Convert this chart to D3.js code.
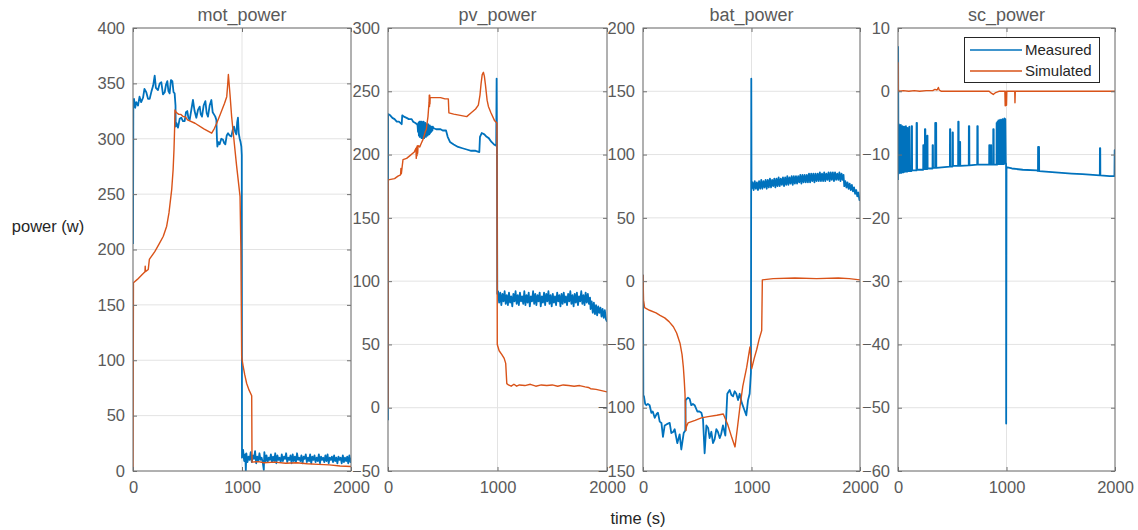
<!DOCTYPE html>
<html>
<head>
<meta charset="utf-8">
<script src="https://cdn.jsdelivr.net/npm/d3@7/dist/d3.min.js"></script>
<style>
  html, body { margin: 0; padding: 0; background: #ffffff; }
  svg { display: block; font-family: "Liberation Sans", Arial, Helvetica, sans-serif; }
</style>
</head>
<body>
<svg id="chart" width="1138" height="530"></svg>
<script>
// ---------------- DATA ----------------
const panelTitles = ["mot_power", "pv_power", "bat_power", "sc_power"];
const seriesNames = ["Measured", "Simulated"];
const xTicks = [0, 1000, 2000];
const yTicksMot = [0, 50, 100, 150, 200, 250, 300, 350, 400];
const yTicksPv  = [-50, 0, 50, 100, 150, 200, 250, 300];
const yTicksBat = [-150, -100, -50, 0, 50, 100, 150, 200];
const yTicksSc  = [-60, -50, -40, -30, -20, -10, 0, 10];

// mot_power measured [time, power]
const motMeasured = [[0,205],[3,334],[9,336],[20,328],[30,333],[46,330],[60,338],[75,333],[92,337],[105,345],[122,342],[138,336],[153,336],[170,343],[185,348],[199,357],[210,346],[229,344],[245,350],[260,351],[275,340],[291,342],[303,349],[315,352],[325,343],[336,341],[348,353],[361,352],[372,342],[382,341],[390,330],[392,311],[400,314],[413,310],[428,318],[443,319],[458,316],[474,316],[486,324],[498,325],[508,319],[520,317],[535,326],[550,335],[565,325],[581,319],[596,326],[612,329],[622,322],[633,320],[648,330],[664,334],[676,323],[688,320],[703,330],[719,335],[731,324],[743,322],[755,320],[765,317],[770,300],[774,293],[785,297],[795,295],[810,300],[826,299],[837,296],[847,295],[860,303],[872,305],[886,303],[902,302],[915,308],[927,311],[938,306],[948,304],[956,315],[963,319],[970,305],[979,300],[987,297],[994,293],[998,285],
[1000,12],[1010,19],[1020,9],[1030,15],[1035,0],[1040,16],[1050,8],[1060,13],[1070,10],[1080,17],[1090,8],[1100,14],[1110,11],[1120,18],[1130,7],[1140,13],[1150,9],[1160,16],[1170,10],[1180,12],[1190,8],[1200,1],[1205,17],[1215,9],[1225,14],[1235,8],[1245,12],[1255,10],[1265,15],[1275,8],[1285,13],[1295,9],[1305,16],[1315,7],[1325,14],[1335,10],[1345,12],[1355,8],[1365,15],[1375,9],[1385,13],[1395,11],[1405,16],[1415,8],[1425,12],[1435,10],[1445,14],[1455,7],[1465,15],[1475,9],[1485,13],[1495,8],[1505,16],[1515,10],[1525,12],[1535,9],[1545,14],[1555,7],[1565,13],[1575,11],[1585,15],[1595,8],[1605,12],[1615,9],[1625,15],[1635,7],[1645,13],[1655,10],[1665,14],[1675,8],[1685,12],[1695,9],[1705,15],[1715,7],[1725,13],[1735,10],[1745,12],[1755,8],[1765,14],[1775,9],[1785,15],[1795,7],[1805,12],[1815,10],[1825,13],[1835,8],[1845,14],[1855,9],[1865,12],[1875,7],[1885,13],[1895,10],[1905,12],[1915,7],[1925,14],[1935,8],[1945,12],[1955,9],[1965,13],[1975,7],[1985,14],[1995,8],[2000,12]];
// mot_power simulated
const motSimulated = [[0,0],[4,170],[40,173],[80,177],[110,180],[112,185],[114,180],[140,182],[150,191],[156,192],[200,198],[240,205],[278,212],[309,221],[330,233],[355,254],[368,272],[376,290],[382,310],[385,326],[395,324],[420,322],[440,322],[460,320],[480,320],[500,317],[569,314],[650,309],[722,305],[745,309],[768,314],[800,322],[840,332],[860,338],[868,348],[875,358],[890,340],[905,320],[920,305],[950,276],[982,248],[990,200],[997,103],[1010,95],[1025,87],[1043,79],[1065,73],[1089,68],[1092,8],[1150,8.5],[1200,7.5],[1300,8],[1400,7],[1500,7.5],[1600,6.5],[1700,6],[1800,5.5],[1900,4.5],[2000,4]];

// pv_power measured
const pvMeasured = [[0,-10],[1,232],[20,231],[40,229],[60,228],[80,226],[100,226],[125,224],[130,231],[145,230],[170,229],[190,228],[216,228],[230,226],[250,225],[265,224],[270,223],[274,218],[278,225],[282,215],[286,226],[290,214],[294,226],[298,214],[302,226],[306,213],[310,226],[314,213],[318,225],[322,214],[326,226],[330,213],[334,225],[338,214],[342,225],[346,214],[350,224],[354,215],[358,224],[362,215],[366,224],[370,216],[374,223],[378,216],[382,223],[386,217],[390,222],[395,218],[400,222],[405,219],[410,222],[414,221],[440,220],[480,220],[500,219],[530,219],[545,214],[566,210],[600,208],[640,206],[680,205],[719,204],[760,203],[800,203],[834,202],[840,214],[856,217],[880,216],[901,214],[920,213],[945,210],[968,208],[988,207],[992,260],[995,207],[998,90],
[1005,92],[1015,83],[1025,91],[1035,81],[1045,90],[1055,84],[1065,92],[1075,82],[1085,89],[1095,81],[1105,91],[1115,83],[1125,88],[1135,80],[1145,90],[1155,84],[1165,92],[1175,82],[1185,89],[1195,81],[1205,91],[1215,84],[1225,88],[1235,82],[1245,92],[1255,81],[1265,89],[1275,83],[1285,91],[1295,80],[1305,88],[1315,84],[1325,92],[1335,82],[1345,90],[1355,81],[1365,89],[1375,84],[1385,91],[1395,80],[1405,88],[1415,83],[1425,91],[1435,81],[1445,90],[1455,84],[1465,92],[1475,82],[1485,89],[1495,80],[1505,90],[1515,83],[1525,88],[1535,81],[1545,91],[1555,84],[1565,89],[1575,80],[1585,90],[1595,82],[1605,91],[1615,83],[1625,88],[1635,81],[1645,90],[1655,84],[1665,92],[1675,82],[1685,89],[1695,80],[1705,90],[1715,83],[1725,91],[1735,81],[1745,88],[1755,84],[1765,92],[1775,82],[1785,89],[1795,81],[1805,91],[1815,83],[1825,90],[1835,82],[1845,87],[1850,78],[1860,84],[1870,75],[1880,83],[1890,74],[1900,81],[1910,73],[1920,80],[1930,75],[1940,79],[1950,72],[1960,78],[1970,71],[1980,77],[1990,70],[2000,68]];
// pv_power simulated
const pvSimulated = [[0,0],[2,180],[60,181],[91,183],[115,184],[118,189],[122,185],[137,196],[170,197],[198,199],[240,202],[255,205],[258,197],[262,206],[265,199],[268,207],[271,201],[274,206],[280,207],[290,206],[304,209],[320,212],[330,215],[340,218],[350,220],[365,230],[372,238],[375,241],[377,247],[379,238],[381,247],[383,240],[385,245],[420,245],[480,245],[520,244],[551,244],[556,233],[600,232],[660,231],[719,230],[760,233],[800,236],[825,239],[840,247],[850,256],[860,263],[871,265],[880,262],[890,255],[905,243],[917,238],[940,233],[972,227],[995,225],[998,50],[1015,45],[1040,42],[1061,39],[1075,35],[1085,19],[1100,18],[1125,17],[1150,18.5],[1175,17],[1200,18],[1250,17.5],[1300,18.5],[1350,17],[1400,18],[1450,17.5],[1500,18],[1550,17],[1600,18],[1650,17.5],[1700,17],[1750,17.5],[1800,16.5],[1830,16],[1850,15],[1900,14.5],[1950,13.5],[2000,12.5]];

// bat_power measured
const batMeasured = [[0,5],[3,-90],[9,-91],[20,-97],[31,-98],[45,-97],[61,-98],[77,-104],[90,-103],[108,-108],[125,-105],[138,-104],[154,-111],[170,-112],[184,-123],[200,-114],[220,-113],[246,-112],[261,-120],[280,-119],[292,-117],[316,-128],[338,-121],[353,-133],[375,-120],[390,-118],[393,-94],[415,-92],[430,-93],[445,-98],[460,-97],[476,-98],[501,-103],[520,-103],[538,-104],[553,-109],[568,-136],[584,-114],[600,-116],[614,-124],[630,-119],[645,-128],[660,-125],[676,-117],[690,-119],[707,-124],[720,-121],[737,-114],[759,-122],[777,-89],[799,-86],[815,-90],[830,-91],[845,-87],[860,-89],[876,-94],[891,-89],[910,-96],[931,-101],[952,-106],[968,-94],[983,-89],[995,-72],[998,160],[1000,73],
[1010,78],[1020,72],[1030,79],[1040,73],[1050,78],[1060,72],[1070,79],[1080,73],[1090,80],[1100,73],[1110,79],[1120,74],[1130,80],[1140,73],[1150,80],[1160,74],[1170,81],[1180,74],[1190,80],[1200,75],[1210,81],[1220,74],[1230,81],[1240,75],[1250,82],[1260,75],[1270,81],[1280,76],[1290,82],[1300,75],[1310,82],[1320,76],[1330,83],[1340,76],[1350,82],[1360,77],[1370,83],[1380,76],[1390,83],[1400,77],[1410,83],[1420,77],[1430,83],[1440,78],[1450,84],[1460,77],[1470,84],[1480,78],[1490,84],[1500,78],[1510,84],[1520,78],[1530,85],[1540,78],[1550,85],[1560,79],[1570,85],[1580,78],[1590,85],[1600,79],[1610,85],[1620,79],[1630,86],[1640,79],[1650,85],[1660,79],[1670,86],[1680,79],[1690,85],[1700,80],[1710,86],[1720,79],[1730,86],[1740,80],[1750,86],[1760,79],[1770,86],[1780,80],[1790,85],[1800,80],[1810,86],[1820,79],[1830,85],[1840,80],[1848,84],
[1855,75],[1865,79],[1875,74],[1885,78],[1895,73],[1905,77],[1915,72],[1925,76],[1935,71],[1945,74],[1955,69],[1965,72],[1975,67],[1985,70],[1995,64],[2000,66]];
// bat_power simulated
const batSimulated = [[0,5],[5,-15],[15,-21],[60,-23],[120,-25],[157,-27],[200,-29],[240,-32],[280,-36],[310,-41],[341,-49],[360,-58],[372,-68],[380,-78],[387,-89],[392,-105],[396,-118],[400,-115],[415,-112],[480,-110],[538,-108],[600,-107],[680,-106],[740,-105],[780,-113],[820,-124],[848,-131],[870,-116],[894,-99],[920,-83],[956,-68],[986,-52],[1002,-69],[1025,-61],[1048,-54],[1070,-46],[1094,-39],[1100,1],[1200,2],[1400,2.5],[1600,2],[1800,2.5],[1900,2],[2000,1]];

// sc_power measured
const scMeasured = [[0,-14],[1,7],[3,-5],[6,-13],[8,-5.2],[12,-5.4],[14,-12.9],[18,-5.6],[22,-12.9],[26,-5.3],[30,-12.9],[33,-5.8],[37,-12.8],[41,-5.5],[45,-12.8],[49,-6],[53,-12.8],[57,-5.6],[61,-12.7],[65,-5.9],[69,-12.7],[73,-5.5],[77,-12.7],[80,-6.2],[84,-12.7],[88,-5.8],[92,-12.6],[96,-6],[100,-12.6],[104,-5.6],[108,-12.6],
[124,-12.6],[125,-5.5],[129,-5.5],[130,-12.5],[170,-12.5],[171,-5],[175,-5],[176,-12.4],[232,-12.4],[233,-8.5],[236,-8.5],[237,-12.3],[247,-12.3],[248,-6],[252,-6],[253,-12.3],[268,-12.3],[269,-7],[272,-7],[273,-12.2],[318,-12.2],[319,-8.5],[322,-8.5],[323,-12.1],[342,-12.1],[343,-5],[352,-5],[353,-12.1],[478,-11.9],[479,-6],[482,-6],[483,-11.9],[502,-11.9],[503,-6.5],[506,-6.5],[507,-11.8],[554,-11.8],[555,-4.8],[559,-4.8],[560,-11.8],[569,-11.8],[570,-8],[573,-8],[574,-11.8],[652,-11.7],[653,-5.5],[657,-5.5],[658,-11.7],[730,-11.6],[731,-5.5],[735,-5.5],[736,-11.6],[840,-11.6],[841,-8.5],[844,-8.5],[845,-11.6],[855,-11.6],[856,-8.5],[859,-8.5],[860,-11.6],[877,-11.6],[878,-6],[882,-6],[883,-11.6],
[908,-11.6],[909,-5],[913,-11.6],[917,-4.8],[921,-11.5],[925,-4.6],[929,-11.5],[933,-5],[937,-11.5],[941,-4.5],[945,-11.5],[949,-4.7],[953,-11.5],[957,-4.5],[961,-11.5],[965,-4.4],[969,-11.5],[973,-4.5],[977,-11.5],[981,-4.3],[985,-11.4],[989,-4.4],[993,-11.4],[996,-11.4],[997,-52.5],[999,-26],[1000,-12],
[1050,-12.2],[1150,-12.4],[1280,-12.5],[1290,-12.6],[1291,-8.8],[1300,-8.8],[1301,-12.6],[1450,-12.8],[1600,-13],[1700,-13.1],[1860,-13.3],[1861,-9],[1864,-9],[1865,-13.3],[1950,-13.4],[1995,-13.4],[1997,-9.3],[2000,-9.3]];
// sc_power simulated
const scSimulated = [[0,0],[1,4.5],[3,0.3],[8,0],[50,0.1],[100,0],[150,0.1],[200,0],[260,0.1],[320,0.1],[340,0.3],[360,0.2],[372,0.6],[380,0.2],[400,0],[600,0],[800,0],[840,0],[860,-0.3],[878,-0.5],[900,-0.2],[930,0],[985,0],[988,-2.3],[992,-1.5],[995,0],[1000,-2.2],[1003,0],[1076,0],[1078,-1.8],[1081,0],[1500,0],[2000,0]];

// ---------------- LAYOUT ----------------
const panels = [
  { title: panelTitles[0], left: 133, width: 218, domain: [0, 400],   ticks: yTicksMot, meas: motMeasured, sim: motSimulated },
  { title: panelTitles[1], left: 388, width: 219, domain: [-50, 300], ticks: yTicksPv,  meas: pvMeasured,  sim: pvSimulated },
  { title: panelTitles[2], left: 643, width: 217, domain: [-150, 200],ticks: yTicksBat, meas: batMeasured, sim: batSimulated },
  { title: panelTitles[3], left: 898, width: 217, domain: [-60, 10],  ticks: yTicksSc,  meas: scMeasured,  sim: scSimulated }
];
const plotTop = 28, plotBottom = 471;
const colors = { meas: "#0072BD", sim: "#D95319" };
const textColor = "#5a5a5a";
const boxColor = "#707070";
const gridColor = "#e3e3e3";

const svg = d3.select("#chart");

panels.forEach((p, i) => {
  const x = d3.scaleLinear().domain([0, 2000]).range([p.left, p.left + p.width]);
  const y = d3.scaleLinear().domain(p.domain).range([plotBottom, plotTop]);
  const g = svg.append("g");

  const clipId = "clip" + i;
  svg.append("clipPath").attr("id", clipId).append("rect")
    .attr("x", p.left).attr("y", plotTop).attr("width", p.width).attr("height", plotBottom - plotTop);

  // grid
  g.append("g").selectAll("line").data(p.ticks).join("line")
    .attr("x1", p.left).attr("x2", p.left + p.width)
    .attr("y1", d => y(d)).attr("y2", d => y(d))
    .attr("stroke", gridColor).attr("stroke-width", 1);
  g.append("g").selectAll("line").data(xTicks).join("line")
    .attr("x1", d => x(d)).attr("x2", d => x(d))
    .attr("y1", plotTop).attr("y2", plotBottom)
    .attr("stroke", gridColor).attr("stroke-width", 1);

  // lines
  const line = d3.line().x(d => x(d[0])).y(d => y(d[1]));
  const lg = g.append("g").attr("clip-path", `url(#${clipId})`);
  lg.append("path").datum(p.meas).attr("d", line)
    .attr("fill", "none").attr("stroke", colors.meas).attr("stroke-width", 1.8).attr("stroke-linejoin", "round");
  lg.append("path").datum(p.sim).attr("d", line)
    .attr("fill", "none").attr("stroke", colors.sim).attr("stroke-width", 1.4).attr("stroke-linejoin", "round");

  // axes (ticks inward)
  const yAxis = d3.axisLeft(y).tickValues(p.ticks).tickSizeInner(-4).tickSizeOuter(0).tickPadding(8).tickFormat(d3.format("d"));
  const ya = g.append("g").attr("transform", `translate(${p.left},0)`).call(yAxis);
  const yAxisR = d3.axisRight(y).tickValues(p.ticks).tickSizeInner(-4).tickSizeOuter(0).tickFormat("");
  const yr = g.append("g").attr("transform", `translate(${p.left + p.width},0)`).call(yAxisR);
  const xAxis = d3.axisBottom(x).tickValues(xTicks).tickSizeInner(-4).tickSizeOuter(0).tickPadding(10).tickFormat(d3.format("d"));
  const xa = g.append("g").attr("transform", `translate(0,${plotBottom})`).call(xAxis);
  const xAxisT = d3.axisTop(x).tickValues(xTicks).tickSizeInner(-4).tickSizeOuter(0).tickFormat("");
  const xt = g.append("g").attr("transform", `translate(0,${plotTop})`).call(xAxisT);
  [ya, yr, xa, xt].forEach(a => {
    a.select(".domain").remove();
    a.selectAll(".tick line").attr("stroke", boxColor);
    a.selectAll(".tick text").attr("fill", textColor).style("font-size", "16.5px").style("font-family", '"Liberation Sans", Arial, sans-serif');
  });

  // box
  g.append("rect").attr("x", p.left).attr("y", plotTop).attr("width", p.width).attr("height", plotBottom - plotTop)
    .attr("fill", "none").attr("stroke", boxColor).attr("stroke-width", 1);

  // title
  g.append("text").attr("x", p.left + p.width / 2).attr("y", 21)
    .attr("text-anchor", "middle").attr("fill", textColor)
    .style("font-size", "18px").text(p.title);
});

// axis labels
svg.append("text").attr("x", 48).attr("y", 232).attr("text-anchor", "middle")
  .attr("fill", "#262626").style("font-size", "16.5px").text("power (w)");
svg.append("text").attr("x", 638).attr("y", 524).attr("text-anchor", "middle")
  .attr("fill", "#262626").style("font-size", "16.5px").text("time (s)");

// legend
const leg = svg.append("g");
leg.append("rect").attr("x", 964.5).attr("y", 37.5).attr("width", 135).attr("height", 45)
  .attr("fill", "#ffffff").attr("stroke", "#262626").attr("stroke-width", 1);
const legItems = [{ name: seriesNames[0], color: colors.meas, y: 50 }, { name: seriesNames[1], color: colors.sim, y: 71 }];
legItems.forEach(it => {
  leg.append("line").attr("x1", 970).attr("x2", 1022).attr("y1", it.y).attr("y2", it.y)
    .attr("stroke", it.color).attr("stroke-width", 1.3);
  leg.append("text").attr("x", 1025).attr("y", it.y + 5).attr("fill", "#262626")
    .style("font-size", "15px").text(it.name);
});
</script>
</body>
</html>
